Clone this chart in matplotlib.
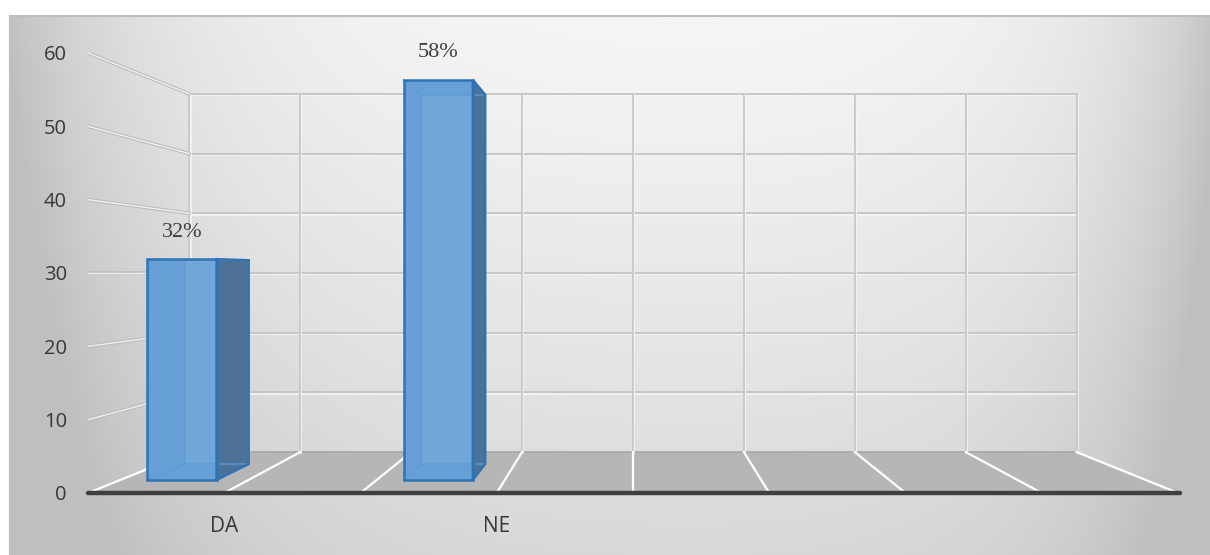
import numpy as np
import matplotlib
matplotlib.use("Agg")
import matplotlib.pyplot as plt
from matplotlib.patches import Polygon
from matplotlib.transforms import offset_copy

# ---- data ----
categories = ["DA", "NE"]
values = [32, 58]
value_labels = ["32%", "58%"]
y_ticks = [0, 10, 20, 30, 40, 50, 60]

n_slots = 8          # category slots along the floor
slots_per_cat = 2    # each category spans two slots

W, H = 1210, 555
fig = plt.figure(figsize=(W / 100, H / 100), dpi=100)

# ---- chart-area background (soft grey gradient) ----
bg = fig.add_axes([0, 0, 1, 1])
bg.set_xlim(0, W)
bg.set_ylim(H, 0)
bg.axis("off")
X, Y = np.meshgrid(np.arange(W) + 0.5, np.arange(H) + 0.5)
w = np.clip((Y - 15) / (H - 15), 0, 1)
shade = (0.965 - 0.11 * w ** 1.2
         - 0.21 * np.exp(-(X - 9) / 150)
         - 0.19 * np.exp(-(W - X) / 110))
shade = np.clip(shade, 0.75, 1.0)
rgb = np.dstack([shade] * 3)
rgb[(X < 9) | (Y < 15)] = 1.0
bg.imshow(rgb, extent=(0, W, H, 0), interpolation="bilinear", aspect="auto")
bg.plot([9.5, 9.5, W], [H, 15.5, 15.5], color="#BEBEBE", lw=1.5)

# ---- plot axes: front plane in (slot, value) units ----
ax = fig.add_axes([88 / W, 62 / H, 1090 / W, 440 / H])
ax.set_xlim(0, n_slots)
ax.set_ylim(0, y_ticks[-1])
ax.axis("off")
ax.patch.set_visible(False)

EYE_X = n_slots / 2   # vanishing point (horizontal centre)
EYE_V = 30            # eye level on the value axis
BACK_SCALE = 0.814    # size of the back wall relative to the front plane


def project(x, v, d):
    """One-point perspective: depth d=0 is the front plane, d=1 the back wall."""
    d = np.asarray(d, dtype=float)
    s = 1 - d * (1 - BACK_SCALE)
    x = np.asarray(x, dtype=float)
    v = np.asarray(v, dtype=float)
    return EYE_X + (x - EYE_X) * s, EYE_V + (v - EYE_V) * s


def pts(*corners):
    return [tuple(map(float, project(*c))) for c in corners]


hi = offset_copy(ax.transData, fig=fig, x=1.2, y=-1.2, units="dots")

# floor
ax.add_patch(Polygon(pts((0, 0, 0), (n_slots, 0, 0), (n_slots, 0, 1), (0, 0, 1)),
                     closed=True, fc="#B6B6B6", ec="none", zorder=1))

# back wall gridlines
for v in y_ticks:
    xs, ys = project([0, n_slots], [v, v], 1)
    if v > 0:
        ax.plot(xs, ys, color="#F6F6F6", lw=1.1, transform=hi, zorder=2)
    ax.plot(xs, ys, color="#C4C4C4" if v > 0 else "#A9A9A9", lw=1.3, zorder=2)
for k in range(n_slots + 1):
    xs, ys = project([k, k], [0, y_ticks[-1]], 1)
    ax.plot(xs, ys, color="#F6F6F6", lw=1.1, transform=hi, zorder=2)
    ax.plot(xs, ys, color="#C8C8C8", lw=1.3, zorder=2)

# floor depth lines
for k in range(n_slots + 1):
    xs, ys = project([k, k], [0, 0], [0, 1])
    ax.plot(xs, ys, color="white", lw=1.6, zorder=2)

# side-wall lines from the front ticks to the back wall
for v in y_ticks[1:]:
    xs, ys = project([0, 0], [v, v], [0, 1])
    ax.plot(xs, ys, color="#BDBDBD", lw=2.6, zorder=2, solid_capstyle="round")
    ax.plot(xs, ys, color="#F0F0F0", lw=1.0, zorder=2)

# front axis line
ax.plot([0, n_slots + 0.015], [0, 0], color="#3F3F3F", lw=3.2,
        solid_capstyle="round", zorder=3, clip_on=False)

# ---- bars ----
bar_shift = -0.52
bar_half = 0.27
d0, d1 = 0.32, 0.71
edge = "#2E74B5"
hidden = "#5D9BD6"

for i, (val, lab) in enumerate(zip(values, value_labels)):
    c = slots_per_cat * i + slots_per_cat / 2 + bar_shift
    x0, x1 = c - bar_half, c + bar_half
    front = pts((x0, 0, d0), (x1, 0, d0), (x1, val, d0), (x0, val, d0))
    back = pts((x0, 0, d1), (x1, 0, d1), (x1, val, d1), (x0, val, d1))
    right = pts((x1, 0, d0), (x1, 0, d1), (x1, val, d1), (x1, val, d0))

    ax.add_patch(Polygon(front, closed=True, fc="#67A0D6", ec="none", zorder=4))
    ax.add_patch(Polygon(back, closed=True, fc="white", alpha=0.07, ec="none", zorder=4))
    ax.add_patch(Polygon(right, closed=True, fc="#4E7197", ec="none", zorder=4))

    # edges seen through the translucent box
    for a, b in [((x0, 0, d1), (x0, val, d1)),
                 ((x0, 0, d1), (x1, 0, d1)),
                 ((x0, 0, d0), (x0, 0, d1)),
                 ((x0, val, d0), (x0, val, d1)),
                 ((x0, val, d1), (x1, val, d1))]:
        (xa, ya), (xb, yb) = pts(a, b)
        ax.plot([xa, xb], [ya, yb], color=hidden, lw=1.2, alpha=0.8, zorder=5)

    # outer edges
    ax.add_patch(Polygon(front, closed=True, fc="none", ec=edge, lw=1.8,
                         joinstyle="miter", zorder=6))
    ax.add_patch(Polygon(right, closed=True, fc="none", ec=edge, lw=1.8,
                         joinstyle="miter", zorder=6))

    tx, ty = project(c, val, d0)
    ax.annotate(lab, xy=(float(tx), float(ty)), xytext=(0, 27),
                textcoords="offset pixels", ha="center", va="center",
                fontsize=16, family=["Liberation Serif", "DejaVu Serif"],
                color="#404040", annotation_clip=False)

# ---- axis labels ----
for v in y_ticks:
    ax.annotate(str(v), xy=(0, v), xytext=(-21, 0), textcoords="offset pixels",
                ha="right", va="center_baseline", fontsize=14.5, family="Open Sans",
                color="#383838", annotation_clip=False)

for i, cat in enumerate(categories):
    ax.annotate(cat, xy=(slots_per_cat * i + slots_per_cat / 2, 0), xytext=(0, -31),
                textcoords="offset pixels", ha="center", va="center_baseline",
                fontsize=15, family="Open Sans", color="#383838",
                annotation_clip=False)

fig.savefig("out.png", dpi=100)
